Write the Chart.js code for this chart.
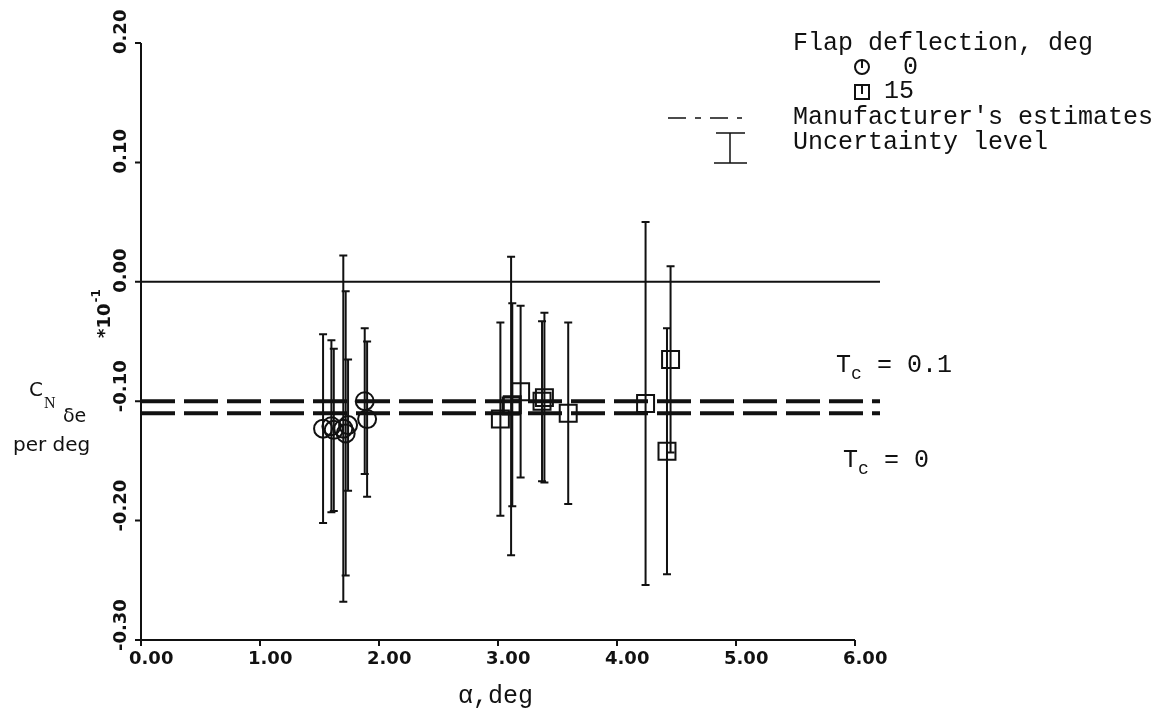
<!DOCTYPE html>
<html>
<head>
<meta charset="utf-8">
<script src="https://cdn.jsdelivr.net/npm/chart.js@4.4.1/dist/chart.umd.min.js"></script>
<style>
  html, body { margin: 0; padding: 0; background: #fff; }
  #wrap { width: 1163px; height: 713px; position: relative; }
</style>
</head>
<body>
<div id="wrap"><canvas id="cnChart"></canvas></div>
<script>
// --- data ---
// flap deflection 0 deg (circles)
const flap0Alpha = [1.53, 1.60, 1.62, 1.70, 1.72, 1.74, 1.88, 1.90];
const flap0Cn    = [-0.123, -0.121, -0.124, -0.123, -0.127, -0.120, -0.100, -0.115];
const flap0Unc   = [0.079, 0.072, 0.068, 0.145, 0.119, 0.055, 0.061, 0.065];

// flap deflection 15 deg (squares)
const flap15Alpha = [3.02, 3.11, 3.12, 3.19, 3.37, 3.39, 3.59, 4.24, 4.42, 4.45];
const flap15Cn    = [-0.115, -0.104, -0.103, -0.092, -0.100, -0.097, -0.110, -0.102, -0.142, -0.065];
const flap15Unc   = [0.081, 0.125, 0.085, 0.072, 0.067, 0.071, 0.076, 0.152, 0.103, 0.078];

// manufacturer's estimates (dashed), one per thrust coefficient
const estimateTc = ['0.1', '0'];
const estimateCn = [-0.100, -0.110];
const lineAlphaRange = [0, 6.21];

// axis ticks
const xTicks = [0, 1, 2, 3, 4, 5, 6];
const xTickLabels = ['0.00', '1.00', '2.00', '3.00', '4.00', '5.00', '6.00'];
const yTicks = [0.2, 0.1, 0, -0.1, -0.2, -0.3];
const yTickLabels = ['0.20', '0.10', '0.00', '-0.10', '-0.20', '-0.30'];

const INK = '#111';
const TICK_FONT = 'bold 18px "DejaVu Sans", sans-serif';
const MONO = '"Liberation Mono", "DejaVu Sans Mono", monospace';

function toPoints(xs, ys) {
    return xs.map((x, i) => ({ x: x, y: ys[i] }));
}

// error bars drawn through the scales
const errorBars = {
    id: 'errorBars',
    afterDatasetsDraw(chart) {
        const ctx = chart.ctx;
        const xs = chart.scales.x, ys = chart.scales.y;
        ctx.save();
        ctx.strokeStyle = INK;
        ctx.lineWidth = 2;
        chart.data.datasets.forEach(ds => {
            if (!ds.unc) return;
            ds.data.forEach((p, i) => {
                const px = xs.getPixelForValue(p.x);
                const top = ys.getPixelForValue(p.y + ds.unc[i]);
                const bot = ys.getPixelForValue(p.y - ds.unc[i]);
                ctx.beginPath();
                ctx.moveTo(px, top); ctx.lineTo(px, bot);
                ctx.moveTo(px - 4, top); ctx.lineTo(px + 4, top);
                ctx.moveTo(px - 4, bot); ctx.lineTo(px + 4, bot);
                ctx.stroke();
            });
        });
        ctx.restore();
    }
};

// plotter style axes, tick labels and annotations
const frame = {
    id: 'frame',
    afterDraw(chart) {
        const ctx = chart.ctx;
        const xs = chart.scales.x, ys = chart.scales.y;
        const x0 = xs.getPixelForValue(0);
        const yb = ys.getPixelForValue(-0.3);
        ctx.save();
        ctx.strokeStyle = INK;
        ctx.fillStyle = INK;
        ctx.lineWidth = 2;

        // y axis
        ctx.beginPath();
        ctx.moveTo(x0, ys.getPixelForValue(0.2));
        ctx.lineTo(x0, yb);
        yTicks.forEach(v => {
            const py = ys.getPixelForValue(v);
            ctx.moveTo(x0 - 6, py); ctx.lineTo(x0, py);
        });
        // x axis
        ctx.moveTo(x0, yb);
        ctx.lineTo(xs.getPixelForValue(6), yb);
        xTicks.forEach(v => {
            const px = xs.getPixelForValue(v);
            ctx.moveTo(px, yb); ctx.lineTo(px, yb + 6);
        });
        ctx.stroke();

        // tick labels
        ctx.font = TICK_FONT;
        ctx.textAlign = 'left';
        ctx.textBaseline = 'top';
        xTicks.forEach((v, i) => {
            ctx.fillText(xTickLabels[i], xs.getPixelForValue(v) - 12, yb + 10);
        });
        ctx.textBaseline = 'middle';
        yTicks.forEach((v, i) => {
            ctx.save();
            ctx.translate(121, ys.getPixelForValue(v));
            ctx.rotate(-Math.PI / 2);
            ctx.fillText(yTickLabels[i], -11, 0);
            ctx.restore();
        });

        // scale factor *10^-1
        ctx.save();
        ctx.translate(105, 338);
        ctx.rotate(-Math.PI / 2);
        ctx.font = 'bold 18px "DejaVu Sans", sans-serif';
        ctx.fillText('*10', 0, 0);
        const w = ctx.measureText('*10').width;
        ctx.font = 'bold 12px "DejaVu Sans", sans-serif';
        ctx.fillText('-1', w + 1, -8);
        ctx.restore();

        // y axis title
        ctx.textAlign = 'left';
        ctx.textBaseline = 'middle';
        ctx.font = '20px "DejaVu Sans", sans-serif';
        ctx.fillText('C', 29, 391);
        ctx.font = '16px "Liberation Serif", serif';
        ctx.fillText('N', 44, 404);
        ctx.font = '19px "DejaVu Sans", sans-serif';
        ctx.fillText('\u03b4e', 63, 417);
        ctx.font = '20px "DejaVu Sans", sans-serif';
        ctx.fillText('per deg', 13, 446);

        // x axis title
        ctx.font = '25px ' + MONO;
        ctx.fillText('\u03b1,deg', 458, 696);

        // thrust coefficient labels next to the estimate lines
        const tcY = [365, 460];
        const tcX = [836, 843];
        estimateTc.forEach((t, i) => {
            ctx.font = '25px ' + MONO;
            ctx.fillText('T', tcX[i], tcY[i]);
            ctx.font = '18px ' + MONO;
            ctx.fillText('c', tcX[i] + 15, tcY[i] + 9);
            ctx.font = '25px ' + MONO;
            ctx.fillText(' = ' + t, tcX[i] + 26, tcY[i]);
        });

        // legend
        ctx.font = '25px ' + MONO;
        ctx.fillText('Flap deflection, deg', 793, 43);
        ctx.beginPath();
        ctx.arc(862, 67, 7, 0, Math.PI * 2);
        ctx.moveTo(862, 60); ctx.lineTo(862, 68);
        ctx.rect(855, 85, 14, 14);
        ctx.moveTo(862, 85); ctx.lineTo(862, 94);
        ctx.stroke();
        ctx.fillText('0', 903, 67);
        ctx.fillText('15', 884, 91);

        ctx.beginPath();
        ctx.setLineDash([18, 9, 6, 9]);
        ctx.lineWidth = 1.5;
        ctx.moveTo(668, 118); ctx.lineTo(742, 118);
        ctx.stroke();
        ctx.setLineDash([]);
        ctx.fillText("Manufacturer's estimates", 793, 117);

        ctx.beginPath();
        ctx.moveTo(730, 133); ctx.lineTo(730, 163);
        ctx.moveTo(716, 133); ctx.lineTo(745, 133);
        ctx.moveTo(714, 163); ctx.lineTo(747, 163);
        ctx.stroke();
        ctx.fillText('Uncertainty level', 793, 142);

        ctx.restore();
    }
};

const lineDatasets = [
    {
        label: 'zero',
        data: toPoints(lineAlphaRange, [0, 0]),
        showLine: true,
        borderColor: INK,
        borderWidth: 2,
        pointRadius: 0
    }
].concat(estimateCn.map((cn, i) => ({
    label: 'Estimate Tc = ' + estimateTc[i],
    data: toPoints(lineAlphaRange, [cn, cn]),
    showLine: true,
    borderColor: INK,
    borderWidth: 4,
    borderDash: [34, 9],
    pointRadius: 0
})));

new Chart(document.getElementById('cnChart').getContext('2d'), {
    type: 'scatter',
    data: {
        datasets: lineDatasets.concat([
            {
                label: '0',
                data: toPoints(flap0Alpha, flap0Cn),
                unc: flap0Unc,
                pointStyle: 'circle',
                pointRadius: 9,
                borderColor: INK,
                borderWidth: 2,
                backgroundColor: 'rgba(0,0,0,0)'
            },
            {
                label: '15',
                data: toPoints(flap15Alpha, flap15Cn),
                unc: flap15Unc,
                pointStyle: 'rect',
                pointRadius: 12,
                borderColor: INK,
                borderWidth: 2,
                backgroundColor: 'rgba(0,0,0,0)'
            }
        ])
    },
    options: {
        responsive: true,
        maintainAspectRatio: false,
        animation: false,
        layout: { padding: { left: 141, right: 283, top: 43, bottom: 73 } },
        scales: {
            x: { type: 'linear', min: 0, max: 6.21, display: false },
            y: { type: 'linear', min: -0.3, max: 0.2, display: false }
        },
        plugins: { legend: { display: false }, tooltip: { enabled: false } }
    },
    plugins: [errorBars, frame]
});
</script>
</body>
</html>
